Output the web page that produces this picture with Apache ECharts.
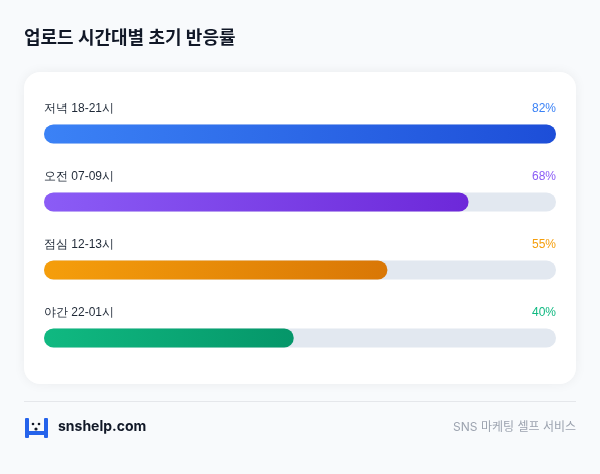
<!DOCTYPE html><html><head><meta charset="utf-8">
<script src="https://cdn.jsdelivr.net/npm/echarts@6/dist/echarts.min.js"></script>
<style>html,body{margin:0;background:#f8fafc}#c{width:600px;height:474px}</style></head><body><div id="c"></div>
<script>
const categories=['저녁 18-21시','오전 07-09시','점심 12-13시','야간 22-01시'];
const values=[82,68,55,40];
const startColors=['#3b82f6','#8b5cf6','#f59e0b','#10b981'];
const endColors=['#1d4ed8','#6d28d9','#d97706','#059669'];
const maxValue=82;
const F='Inter, "Noto Sans CJK KR", sans-serif';
const chart=echarts.init(document.getElementById('c'));
chart.setOption({
 backgroundColor:'#f8fafc',
 graphic:[
  {type:'rect',shape:{x:24,y:72,width:552,height:312,r:16},style:{fill:'#fff',shadowBlur:12,shadowColor:'rgba(15,23,42,0.06)'},z:-10},
  {type:'text',left:24,top:30,style:{text:'업로드 시간대별 초기 반응률',font:'bold 18px '+F,fill:'#111827'}},
  {type:'rect',shape:{x:24,y:401,width:552,height:1},style:{fill:'#e5e7eb'}},
  {type:'rect',shape:{x:25,y:418,width:4,height:20,r:1},style:{fill:'#2563eb'}},
  {type:'rect',shape:{x:44,y:418,width:4,height:20,r:1},style:{fill:'#2563eb'}},
  {type:'rect',shape:{x:27,y:431,width:20,height:4,r:1},style:{fill:'#2563eb'}},
  {type:'circle',shape:{cx:33,cy:424,r:1.3},style:{fill:'#111827'}},
  {type:'circle',shape:{cx:39,cy:424,r:1.3},style:{fill:'#111827'}},
  {type:'circle',shape:{cx:36,cy:429,r:1.6},style:{fill:'#111827'}},
  {type:'text',left:58,top:420,style:{text:'snshelp.com',font:'bold 14px '+F,fill:'#111827'}},
  {type:'text',right:24,top:421,style:{text:'SNS 마케팅 셀프 서비스',font:'12px '+F,fill:'#9ca3af'}}
 ],
 grid:{left:44,right:44,top:100,height:272},
 xAxis:{type:'value',min:0,max:maxValue,show:false},
 yAxis:{type:'category',data:categories,inverse:true,show:false},
 series:[
  {type:'bar',barWidth:19,silent:true,z:1,
   data:categories.map((c,i)=>({value:maxValue,name:c})),
   itemStyle:{color:'#e2e8f0',borderRadius:10},
   label:{show:true,position:[0,-10],align:'left',verticalAlign:'bottom',formatter:p=>p.name,font:'bold 15px '+F,color:'#1f2937'}},
  {type:'bar',barWidth:19,barGap:'-100%',z:2,
   data:values.map((v,i)=>({value:v,
     itemStyle:{borderRadius:10,color:new echarts.graphic.LinearGradient(0,0,1,0,[{offset:0,color:startColors[i]},{offset:1,color:endColors[i]}])},
     label:{show:true,position:[512,-10],align:'right',verticalAlign:'bottom',formatter:v+'%',font:'bold 16px '+F,color:startColors[i]}}))}
 ]
});
</script></body></html>
